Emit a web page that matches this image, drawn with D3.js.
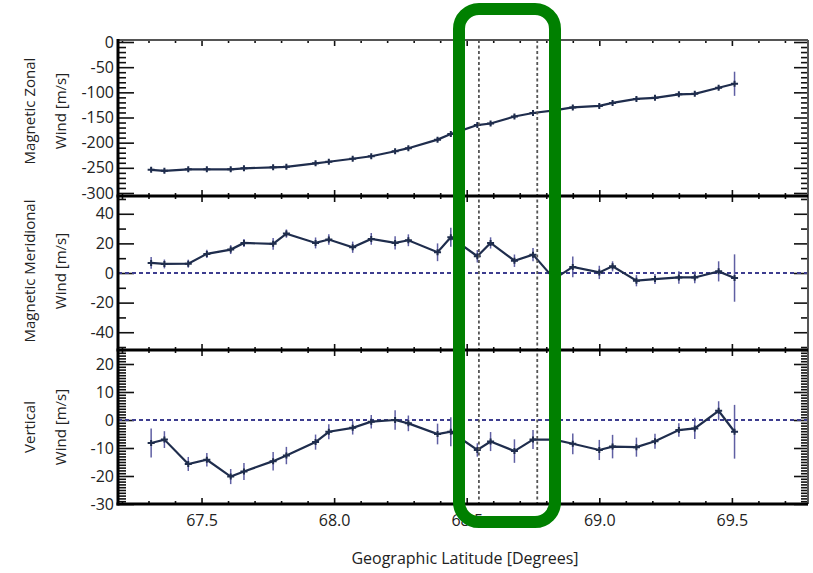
<!DOCTYPE html>
<html>
<head>
<meta charset="utf-8">
<script src="https://cdn.jsdelivr.net/npm/d3@7"></script>
<style>
  body { margin: 0; background: #fff; }
  svg text { font-family: "Open Sans", "Liberation Sans", sans-serif; fill: #222; }
</style>
</head>
<body>
<div id="chart"></div>
<script>
// geographic latitude of each sample
const lat = [67.31, 67.36, 67.45, 67.52, 67.61, 67.66, 67.77, 67.82, 67.93, 67.98,
             68.07, 68.14, 68.23, 68.28, 68.39, 68.44, 68.54, 68.59, 68.68, 68.75,
             68.83, 68.90, 69.00, 69.05, 69.14, 69.21, 69.30, 69.36, 69.45, 69.51];

const zonal = [-254, -256, -253, -253, -253, -251, -249, -248, -241, -238,
               -232, -227, -217, -211, -194, -183, -165, -162, -148, -141,
               -136, -130, -127, -121, -113, -111, -104, -103, -91, -83];
const zonalErr = [4, 4, 4, 4, 4, 4, 4, 4, 4, 4, 4, 4, 4, 4, 4, 4, 4, 4, 4, 4,
                  4, 4, 4, 4, 4, 4, 4, 4, 4, 24];

const meridional = [6.8, 6.1, 6.3, 12.9, 15.8, 20.3, 19.7, 26.6, 20.3, 22.6,
                    17.4, 23, 20.3, 22.1, 14, 24.1, 11.3, 20.3, 8.3, 12.4,
                    -4, 4.1, 0.4, 4.5, -5.2, -4.1, -3, -3, 1.1, -3.4];
const meridionalErr = [4, 3, 2.7, 2.8, 3, 2.7, 4, 2.8, 3.7, 3.6,
                       3.8, 4, 4.5, 4, 6, 6.4, 4.2, 3.8, 4.2, 4.5,
                       4, 7, 4.5, 3.4, 3.8, 3.4, 4.2, 4, 6.8, 16];

const vertical = [-8.2, -7, -15.7, -14.2, -20.2, -18.4, -14.7, -12.7, -7.9, -4.2,
                  -2.8, -0.6, 0, -1.2, -5, -4.2, -10.7, -7.7, -11.1, -7,
                  -7, -8.5, -10.7, -9.5, -9.7, -7.6, -3.6, -3, 3.3, -4.2];
const verticalErr = [5.2, 3, 2.5, 2.4, 2.7, 3, 3.3, 3.1, 2.7, 2.7,
                     2.4, 2.4, 3.5, 2.8, 3.7, 5.2, 2.4, 3.4, 4.2, 3.4,
                     3.5, 3.7, 3.6, 4.2, 3.4, 2.7, 2.4, 3.8, 3.4, 9.6];

const xTicks = [67.5, 68.0, 68.5, 69.0, 69.5];
const zonalTicks = [0, -50, -100, -150, -200, -250, -300];
const meridionalTicks = [40, 20, 0, -20, -40];
const verticalTicks = [20, 10, 0, -10, -20, -30];

// dashed latitude markers
const markLat = [68.546, 68.766];

const W = 813, H = 573;
const left = 118, right = 808;

const x = d3.scaleLinear().domain([67.185, 69.787]).range([left, right]);

const panels = [
  { vals: zonal, errs: zonalErr, ticks: zonalTicks, minor: 10, domain: [-306, 4],
    top: 40, bottom: 196, zero: false, t1: "Magnetic Zonal", t2: "Wind [m/s]", cy: 111 },
  { vals: meridional, errs: meridionalErr, ticks: meridionalTicks, minor: 10, domain: [-52, 52],
    top: 196, bottom: 350, zero: true, t1: "Magnetic Meridional", t2: "Wind [m/s]", cy: 271 },
  { vals: vertical, errs: verticalErr, ticks: verticalTicks, minor: 1, domain: [-30, 25],
    top: 350, bottom: 504, zero: true, t1: "Vertical", t2: "Wind [m/s]", cy: 427 }
];

const svg = d3.select("#chart").append("svg")
    .attr("width", W)
    .attr("height", H);

const xMinor = d3.range(67.2, 69.75, 0.1).map(d => +d.toFixed(1));

panels.forEach((p, i) => {
  const y = d3.scaleLinear().domain(p.domain).range([p.bottom, p.top]);
  const g = svg.append("g");
  const minorVals = d3.range(p.domain[0], p.domain[1] + 0.001, p.minor)
      .map(d => Math.round(d / p.minor) * p.minor)
      .filter(d => d >= p.domain[0] && d <= p.domain[1] && !p.ticks.includes(d));

  // y axes, ticks pointing inward
  g.append("g").attr("transform", `translate(${left},0)`)
      .call(d3.axisLeft(y).tickValues(p.ticks).tickSize(-16).tickPadding(4).tickFormat(d => String(d)));
  g.append("g").attr("transform", `translate(${left},0)`)
      .call(d3.axisLeft(y).tickValues(minorVals).tickSize(-8).tickFormat(""));
  g.append("g").attr("transform", `translate(${right},0)`)
      .call(d3.axisRight(y).tickValues(p.ticks).tickSize(-14).tickFormat(""));
  g.append("g").attr("transform", `translate(${right},0)`)
      .call(d3.axisRight(y).tickValues(minorVals).tickSize(-7).tickFormat(""));

  // x axes top and bottom
  g.append("g").attr("transform", `translate(0,${p.bottom})`)
      .call(d3.axisBottom(x).tickValues(xTicks).tickSize(-6).tickPadding(11)
      .tickFormat(i === 2 ? d3.format(".1f") : ""));
  g.append("g").attr("transform", `translate(0,${p.bottom})`)
      .call(d3.axisBottom(x).tickValues(xMinor.filter(d => !xTicks.includes(d))).tickSize(-3).tickFormat(""));
  g.append("g").attr("transform", `translate(0,${p.top})`)
      .call(d3.axisTop(x).tickValues(xTicks).tickSize(-6).tickFormat(""));
  g.append("g").attr("transform", `translate(0,${p.top})`)
      .call(d3.axisTop(x).tickValues(xMinor.filter(d => !xTicks.includes(d))).tickSize(-3).tickFormat(""));

  g.selectAll(".domain").remove();
  g.selectAll(".tick line").attr("stroke", "#111").attr("stroke-width", 1.6);
  g.selectAll(".tick text").attr("font-size", 16).attr("fill", "#222")
      .attr("font-family", "'Open Sans', sans-serif");

  // zero reference
  if (p.zero) {
    g.append("line")
        .attr("x1", left).attr("x2", right)
        .attr("y1", y(0)).attr("y2", y(0))
        .attr("stroke", "#3d3d8f").attr("stroke-width", 2)
        .attr("stroke-dasharray", "4,3");
  }

  // error bars
  g.append("g").selectAll("line")
      .data(p.vals)
      .join("line")
      .attr("x1", (d, j) => x(lat[j])).attr("x2", (d, j) => x(lat[j]))
      .attr("y1", (d, j) => y(d - p.errs[j])).attr("y2", (d, j) => y(d + p.errs[j]))
      .attr("stroke", "#5f5fa3").attr("stroke-width", 1.5);

  // data line
  g.append("path")
      .datum(p.vals)
      .attr("d", d3.line().x((d, j) => x(lat[j])).y(d => y(d)))
      .attr("fill", "none")
      .attr("stroke", "#1f2d4d")
      .attr("stroke-width", 2.2);

  // plus markers
  g.append("g").selectAll("path")
      .data(p.vals)
      .join("path")
      .attr("d", (d, j) => `M${x(lat[j]) - 3.5},${y(d)}h7M${x(lat[j])},${y(d) - 3}v6`)
      .attr("stroke", "#1f2d4d").attr("stroke-width", 2);

  // axis titles
  svg.append("text")
      .attr("transform", `translate(35,${p.cy}) rotate(-90)`)
      .attr("text-anchor", "middle")
      .attr("font-size", 15)
      .text(p.t1);
  svg.append("text")
      .attr("transform", `translate(66,${p.cy}) rotate(-90)`)
      .attr("text-anchor", "middle")
      .attr("font-size", 15)
      .text(p.t2);
});

// latitude markers
svg.append("g").selectAll("line")
    .data(markLat)
    .join("line")
    .attr("x1", d => x(d)).attr("x2", d => x(d))
    .attr("y1", 40).attr("y2", 504)
    .attr("stroke", "#555").attr("stroke-width", 1.8)
    .attr("stroke-dasharray", "3,2.5");

// frame
svg.append("line").attr("x1", left).attr("x2", right).attr("y1", 40).attr("y2", 40)
    .attr("stroke", "#555").attr("stroke-width", 2);
svg.append("line").attr("x1", right).attr("x2", right).attr("y1", 40).attr("y2", 504)
    .attr("stroke", "#555").attr("stroke-width", 2);
[196, 350, 504].forEach(yy => {
  svg.append("line").attr("x1", left - 1.5).attr("x2", right).attr("y1", yy).attr("y2", yy)
      .attr("stroke", "#000").attr("stroke-width", 3);
});
svg.append("line").attr("x1", left).attr("x2", left).attr("y1", 39).attr("y2", 505.5)
    .attr("stroke", "#000").attr("stroke-width", 3);

// x title
svg.append("text")
    .attr("x", (left + right) / 2 + 2)
    .attr("y", 564)
    .attr("text-anchor", "middle")
    .attr("font-size", 16)
    .text("Geographic Latitude [Degrees]");

// highlight box
svg.append("rect")
    .attr("x", 459).attr("y", 9)
    .attr("width", 96).attr("height", 513)
    .attr("rx", 20)
    .attr("fill", "none")
    .attr("stroke", "#008000")
    .attr("stroke-width", 12);
</script>
</body>
</html>
